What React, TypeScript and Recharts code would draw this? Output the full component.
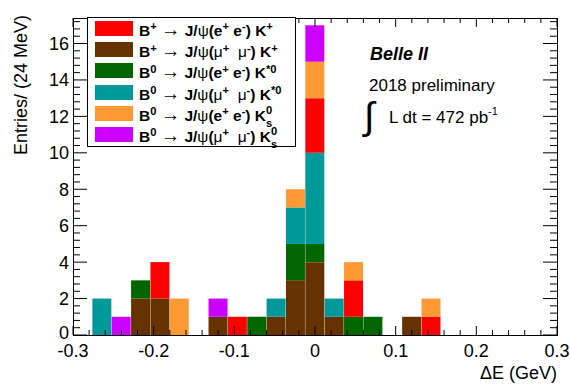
import React from "react";
import { BarChart, Bar, XAxis, YAxis } from "recharts";

const FONT = '"Liberation Sans", Arial, Helvetica, sans-serif';
const PLOT = { left: 73, top: 18, right: 557, bottom: 335 };

// bin centres, 24 MeV bins from -0.3 to 0.3 GeV
const binCenters = [
  -0.288, -0.264, -0.24, -0.216, -0.192, -0.168, -0.144, -0.12, -0.096,
  -0.072, -0.048, -0.024, 0, 0.024, 0.048, 0.072, 0.096, 0.12, 0.144, 0.168,
  0.192, 0.216, 0.24, 0.264, 0.288,
];

// counts per bin, stacked bottom to top in this order
const bpMuMuKp = [0, 0, 0, 2, 2, 0, 0, 1, 0, 0, 1, 3, 4, 1, 0, 0, 0, 1, 0, 0, 0, 0, 0, 0, 0];
const b0EEKst = [0, 0, 0, 1, 0, 0, 0, 0, 0, 1, 0, 2, 1, 0, 1, 1, 0, 0, 0, 0, 0, 0, 0, 0, 0];
const b0MuMuKst = [0, 2, 0, 0, 0, 0, 0, 0, 0, 0, 1, 2, 5, 1, 0, 0, 0, 0, 0, 0, 0, 0, 0, 0, 0];
const bpEEKp = [0, 0, 0, 0, 2, 0, 0, 0, 1, 0, 0, 0, 3, 0, 2, 0, 0, 0, 1, 0, 0, 0, 0, 0, 0];
const b0EEKs = [0, 0, 0, 0, 0, 2, 0, 0, 0, 0, 0, 1, 2, 0, 1, 0, 0, 0, 1, 0, 0, 0, 0, 0, 0];
const b0MuMuKs = [0, 0, 1, 0, 0, 0, 0, 1, 0, 0, 0, 0, 2, 0, 0, 0, 0, 0, 0, 0, 0, 0, 0, 0, 0];

const xMajorTicks = [-0.3, -0.2, -0.1, 0, 0.1, 0.2, 0.3];
const yMajorTicks = [0, 2, 4, 6, 8, 10, 12, 14, 16];
const xMinorStep = 0.02;
const yMinorStep = 0.4;

const COLORS = {
  bpEEKp: "#ff0000",
  bpMuMuKp: "#663300",
  b0EEKst: "#006600",
  b0MuMuKst: "#009999",
  b0EEKs: "#ff9933",
  b0MuMuKs: "#cc00ff",
};

const data = binCenters.map((x, i) => ({
  x,
  bpMuMuKp: bpMuMuKp[i],
  b0EEKst: b0EEKst[i],
  b0MuMuKst: b0MuMuKst[i],
  bpEEKp: bpEEKp[i],
  b0EEKs: b0EEKs[i],
  b0MuMuKs: b0MuMuKs[i],
}));

const xTicks: number[] = [];
for (let i = 0; i <= 30; i++) xTicks.push(Math.round((-0.3 + i * xMinorStep) * 1000) / 1000);
const yTicks: number[] = [];
for (let i = 0; i <= 43; i++) yTicks.push(Math.round(i * yMinorStep * 10) / 10);

const isIn = (list: number[], v: number) => list.some((m) => Math.abs(m - v) < 1e-6);

function XTick(props: any) {
  const { x, payload } = props;
  const v = payload.value;
  const major = isIn(xMajorTicks, v);
  const len = major ? 9 : 5;
  return (
    <g>
      <line x1={x} x2={x} y1={PLOT.bottom} y2={PLOT.bottom - len} stroke="#000" />
      <line x1={x} x2={x} y1={PLOT.top} y2={PLOT.top + len} stroke="#000" />
      {major && (
        <text x={x} y={PLOT.bottom + 22} textAnchor="middle" fontSize={18} fontFamily={FONT} fill="#000">
          {Math.abs(v) < 1e-9 ? "0" : v.toFixed(1)}
        </text>
      )}
    </g>
  );
}

function YTick(props: any) {
  const { y, payload } = props;
  const v = payload.value;
  const major = isIn(yMajorTicks, v);
  const len = major ? 14 : 7;
  // lift the "0" a little so it clears the -0.3 label below it
  const dy = v === 0 ? 3.5 : 6.5;
  return (
    <g>
      <line x1={PLOT.left} x2={PLOT.left + len} y1={y} y2={y} stroke="#000" />
      <line x1={PLOT.right} x2={PLOT.right - len} y1={y} y2={y} stroke="#000" />
      {major && (
        <text x={PLOT.left - 4} y={y + dy} textAnchor="end" fontSize={18} fontFamily={FONT} fill="#000">
          {v}
        </text>
      )}
    </g>
  );
}

const Sup = ({ children }: { children: React.ReactNode }) => (
  <span style={{ fontSize: "0.72em", position: "relative", top: "-0.5em" }}>{children}</span>
);
const Sym = ({ children }: { children: React.ReactNode }) => (
  <span style={{ fontWeight: 400 }}>{children}</span>
);
const Ks = () => (
  <span>
    K
    <span style={{ position: "relative", display: "inline-block", fontSize: "0.72em" }}>
      <span style={{ position: "relative", top: "-0.6em" }}>0</span>
      <span style={{ position: "absolute", left: 0, top: "0.55em" }}>s</span>
    </span>
  </span>
);

const legendRows = [
  { color: COLORS.bpEEKp, b: "+", lep: "e", kaon: <>K<Sup>+</Sup></> },
  { color: COLORS.bpMuMuKp, b: "+", lep: "mu", kaon: <>K<Sup>+</Sup></> },
  { color: COLORS.b0EEKst, b: "0", lep: "e", kaon: <>K<Sup>*0</Sup></> },
  { color: COLORS.b0MuMuKst, b: "0", lep: "mu", kaon: <>K<Sup>*0</Sup></> },
  { color: COLORS.b0EEKs, b: "0", lep: "e", kaon: <Ks /> },
  { color: COLORS.b0MuMuKs, b: "0", lep: "mu", kaon: <Ks /> },
];

function Legend() {
  return (
    <div
      style={{
        position: "absolute",
        left: 87,
        top: 17,
        width: 209,
        height: 130,
        boxSizing: "border-box",
        border: "1px solid #000",
        background: "#fff",
        paddingTop: 3,
      }}
    >
      {legendRows.map((r, i) => (
        <div key={i} style={{ display: "flex", alignItems: "flex-start", height: 21.2 }}>
          <div style={{ width: 38, height: 15, background: r.color, marginLeft: 7 }} />
          <div
            style={{
              marginLeft: 6,
              fontFamily: FONT,
              fontWeight: 700,
              fontSize: 15.5,
              lineHeight: "16px",
              whiteSpace: "nowrap",
              color: "#000",
            }}
          >
            B<Sup>{r.b}</Sup>{" "}
            <span style={{ fontWeight: 400, fontSize: "1.25em", lineHeight: "16px" }}>→</span> J/
            <Sym>ψ</Sym>(
            {r.lep === "e" ? (
              <>
                e<Sup>+</Sup> e<Sup>-</Sup>
              </>
            ) : (
              <>
                <Sym>μ</Sym>
                <Sup>+</Sup>&nbsp; <Sym>μ</Sym>
                <Sup>-</Sup>
              </>
            )}
            ) {r.kaon}
          </div>
        </div>
      ))}
    </div>
  );
}

export default function App() {
  return (
    <div
      style={{
        position: "absolute",
        left: 0,
        top: 0,
        width: 570,
        height: 385,
        background: "#fff",
        fontFamily: FONT,
      }}
    >
      <BarChart
        width={570}
        height={385}
        data={data}
        margin={{ top: PLOT.top, right: 570 - PLOT.right - 20, bottom: 385 - PLOT.bottom - 30, left: PLOT.left - 40 }}
        barCategoryGap={0}
        barGap={0}
      >
        <XAxis
          dataKey="x"
          type="number"
          domain={[-0.3, 0.3]}
          allowDataOverflow
          ticks={xTicks}
          interval={0}
          height={30}
          tickLine={false}
          axisLine={false}
          tick={(p: any) => <XTick {...p} />}
        />
        <YAxis
          type="number"
          domain={[0, 17.4]}
          allowDataOverflow
          ticks={yTicks}
          interval={0}
          width={40}
          tickLine={false}
          axisLine={false}
          tick={(p: any) => <YTick {...p} />}
        />
        <YAxis yAxisId="r" orientation="right" width={20} tick={false} axisLine={false} tickLine={false} />
        <Bar dataKey="bpMuMuKp" stackId="s" fill={COLORS.bpMuMuKp} isAnimationActive={false} />
        <Bar dataKey="b0EEKst" stackId="s" fill={COLORS.b0EEKst} isAnimationActive={false} />
        <Bar dataKey="b0MuMuKst" stackId="s" fill={COLORS.b0MuMuKst} isAnimationActive={false} />
        <Bar dataKey="bpEEKp" stackId="s" fill={COLORS.bpEEKp} isAnimationActive={false} />
        <Bar dataKey="b0EEKs" stackId="s" fill={COLORS.b0EEKs} isAnimationActive={false} />
        <Bar dataKey="b0MuMuKs" stackId="s" fill={COLORS.b0MuMuKs} isAnimationActive={false} />
      </BarChart>

      {/* frame */}
      <div
        style={{
          position: "absolute",
          left: PLOT.left,
          top: PLOT.top,
          width: PLOT.right - PLOT.left + 1,
          height: PLOT.bottom - PLOT.top + 1,
          boxSizing: "border-box",
          border: "1px solid #000",
          pointerEvents: "none",
        }}
      />

      <svg width={570} height={385} style={{ position: "absolute", left: 0, top: 0, pointerEvents: "none" }}>
        <text
          transform="translate(27,15) rotate(-90)"
          textAnchor="end"
          fontSize={18}
          fontFamily={FONT}
          fill="#000"
        >
          Entries/ (24 MeV)
        </text>
        <text x={PLOT.right} y={379} textAnchor="end" fontSize={18} fontFamily={FONT} fill="#000">
          ΔE (GeV)
        </text>
        <text x={370} y={60} fontSize={18} fontFamily={FONT} fontWeight={700} fontStyle="italic" fill="#000">
          Belle II
        </text>
        <text x={369} y={91} fontSize={17} fontFamily={FONT} fill="#000">
          2018 preliminary
        </text>
        <text x={364} y={129} fontSize={38} fontFamily={FONT} fill="#000">
          ∫
        </text>
        <text x={389} y={123} fontSize={17} fontFamily={FONT} fill="#000">
          L dt = 472 pb
          <tspan fontSize={11} dy={-8}>-1</tspan>
        </text>
      </svg>

      <Legend />
    </div>
  );
}
